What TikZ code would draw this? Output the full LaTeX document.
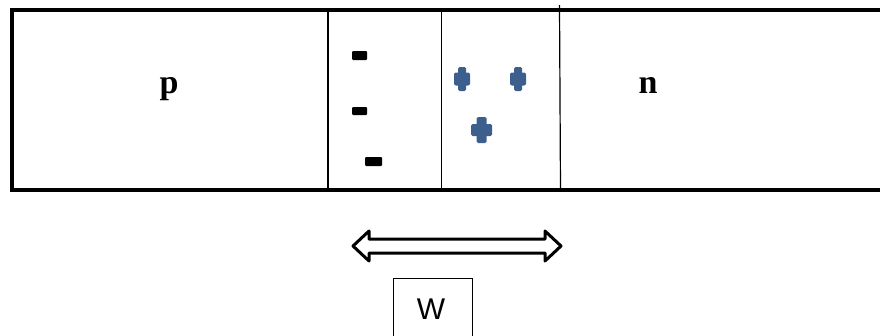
\documentclass[tikz,border=0pt]{standalone}
\usepackage{fontspec}
\setmainfont{Liberation Serif}
\newfontfamily\arialfont{Liberation Sans}
\definecolor{ionblue}{HTML}{3D5F8E}
\tikzset{
  region/.style={line width=1.5pt},
  outerbar/.style={line width=4pt},
  label/.style={font=\bfseries\fontsize{34}{38}\selectfont, inner sep=0pt},
  negion/.style={fill=black, rounded corners=1pt},
  posion/.pic={
    \fill[ionblue, rounded corners=1.5pt] (-4,-12) rectangle (4,12);
    \fill[ionblue, rounded corners=2pt] (-8,-6.5) rectangle (8,6.5);
  },
  posionbig/.pic={
    \fill[ionblue, rounded corners=1.5pt] (-5,-13) rectangle (5,13);
    \fill[ionblue, rounded corners=1.5pt] (-10.5,-6) rectangle (10.5,6);
  },
  dimarrow/.style={line width=3pt, line join=round, fill=white},
  wbox/.style={line width=1pt}
}
\begin{document}
\begin{tikzpicture}[x=1pt, y=-1pt]
\useasboundingbox (0,0) rectangle (880,335);
\clip (0,0) rectangle (880,335);
% outer junction bar
\draw[outerbar] (890,10) -- (12,10) -- (12,190) -- (890,190);
% region borders
\draw[region] (328,10) -- (328,190);
\draw[region] (441.5,10) -- (441.5,190);
\draw[region, line width=1.2pt] (559.5,5) -- (560.5,190);
% labels
\node[label] (p) at (169,89) {p};
\node[label] (n) at (648,85) {n};
% negative ions
\fill[negion] (352,51) rectangle (367,60);
\fill[negion] (352,107) rectangle (367,115);
\fill[negion] (365,157) rectangle (382,166);
% positive ions
\pic at (462,79) {posion};
\pic at (518,79) {posion};
\pic at (481.5,130) {posionbig};
% width arrow
\draw[dimarrow] (353,246) -- (369,231) -- (369,239) -- (545,239) -- (545,231)
  -- (561,246) -- (545,261) -- (545,253) -- (369,253) -- (369,261) -- cycle;
% W box
\draw[wbox] (393,278) rectangle (472,345);
\node[font=\arialfont\fontsize{30}{34}\selectfont, inner sep=0pt] (w) at (431,309) {W};
\end{tikzpicture}
\end{document}
